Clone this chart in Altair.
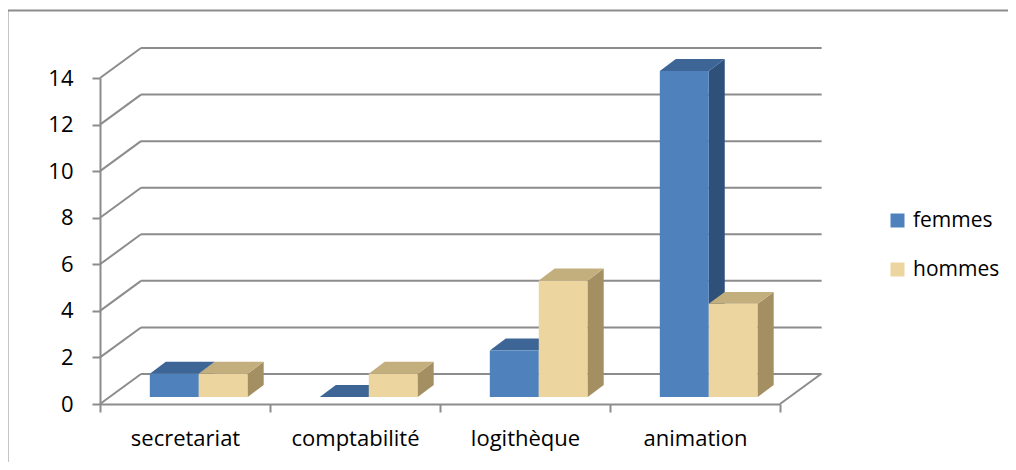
import json
import altair as alt
import pandas as pd

# ---- data ----
categories = ["secretariat", "comptabilité", "logithèque", "animation"]
series = ["femmes", "hommes"]
femmes = [1, 0, 2, 14]
hommes = [1, 1, 5, 4]
y_ticks = [0, 2, 4, 6, 8, 10, 12, 14]

# ---- styling / 3D projection constants (in scale units) ----
WALL_DX, WALL_DY = 0.2412, 1.288      # back-wall offset
GRID_END = 4.245                      # right end of back-wall lines
BAR_LEFT, BAR_W = 0.293, 0.288        # bar front face position inside a category
FRONT_DY = 0.30                       # bars sit slightly into the floor
DEPTH_DX, DEPTH_DY = 0.094, 0.515     # bar depth offset

GRID = "#8C8C8C"
FONT = "Open Sans"
FRONT = {"femmes": "#4F81BD", "hommes": "#EDD59F"}
TOP = {"femmes": "#3D6697", "hommes": "#C3AE7E"}
SIDE = {"femmes": "#2F5179", "hommes": "#A48F62"}

values = {"femmes": femmes, "hommes": hommes}

# ---- build geometry tables from the arrays ----
front_rows, side_rows, top_rows = [], [], []
for i, cat in enumerate(categories):
    for j, s in enumerate(series):
        v = values[s][i]
        x0 = i + BAR_LEFT + j * BAR_W
        x1 = x0 + BAR_W
        fid = f"{s}-{i}"
        front_rows.append(dict(series=s, cat=cat, x=x0, x2=x1, y=FRONT_DY, y2=v + FRONT_DY))
        for t in (0, 1):
            side_rows.append(dict(series=s, fid=fid, fill=SIDE[s],
                                  x=x1 + t * DEPTH_DX,
                                  y=FRONT_DY + t * DEPTH_DY,
                                  y2=v + FRONT_DY + t * DEPTH_DY))
            top_rows.append(dict(series=s, fid=fid, fill=TOP[s],
                                 y=v + FRONT_DY + t * DEPTH_DY,
                                 x=x0 + t * DEPTH_DX,
                                 x2=x1 + t * DEPTH_DX))
front_df = pd.DataFrame(front_rows)
side_df = pd.DataFrame(side_rows)
top_df = pd.DataFrame(top_rows)

diag_df = pd.DataFrame([dict(x=0, y=v, x2=WALL_DX, y2=v + WALL_DY) for v in y_ticks]
                       + [dict(x=len(categories), y=0, x2=len(categories) + WALL_DX, y2=WALL_DY)])
back_df = pd.DataFrame([dict(x=WALL_DX, x2=GRID_END, y=v + WALL_DY) for v in y_ticks])

# ---- scales and axes ----
xscale = alt.Scale(domain=[0, len(categories)], nice=False, zero=False)
yscale = alt.Scale(domain=[0, max(y_ticks)], nice=False, zero=False)

label_expr = f"{json.dumps(categories)}[datum.value] || ''"
xaxis = alt.Axis(values=list(range(len(categories) + 1)), labelExpr=label_expr,
                 labelOffset=85, labelFlush=False, labelOverlap=False, grid=False,
                 title=None, tickSize=8, tickWidth=2, tickColor=GRID,
                 domainColor=GRID, domainWidth=2, labelFont=FONT, labelFontSize=22,
                 labelColor="#000000", labelPadding=16)
yaxis = alt.Axis(values=y_ticks, grid=False, title=None, tickSize=8, tickWidth=2,
                 tickColor=GRID, domainColor=GRID, domainWidth=2, labelFont=FONT,
                 labelFontSize=22, labelColor="#000000", labelPadding=19,
                 labelFlush=False, labelOverlap=False)


def X(f):
    return alt.X(f"{f}:Q", scale=xscale, axis=xaxis)


def Y(f):
    return alt.Y(f"{f}:Q", scale=yscale, axis=yaxis)


diag = alt.Chart(diag_df).mark_rule(color=GRID, strokeWidth=2).encode(
    x=X("x"), y=Y("y"), x2="x2:Q", y2="y2:Q")
back = alt.Chart(back_df).mark_rule(color=GRID, strokeWidth=2).encode(
    x=X("x"), x2="x2:Q", y=Y("y"))


def side_layer(s):
    return alt.Chart(side_df).transform_filter(alt.datum.series == s).mark_area(
        orient="vertical").encode(x=X("x"), y=Y("y"), y2="y2:Q",
                                  detail="fid:N", fill=alt.Fill("fill:N", scale=None))


def top_layer(s):
    return alt.Chart(top_df).transform_filter(alt.datum.series == s).mark_area(
        orient="horizontal").encode(y=Y("y"), x=X("x"), x2="x2:Q",
                                    detail="fid:N", fill=alt.Fill("fill:N", scale=None))


color = alt.Color("series:N",
                  scale=alt.Scale(domain=series, range=[FRONT[s] for s in series]),
                  legend=alt.Legend(title=None, orient="none", legendX=787, legendY=132,
                                    symbolType="square", symbolSize=196,
                                    symbolStrokeWidth=0, labelFont=FONT,
                                    labelFontSize=21, labelColor="#000000",
                                    rowPadding=27, labelOffset=5, padding=0))


def front_layer(s):
    return alt.Chart(front_df).transform_filter(alt.datum.series == s).mark_rect().encode(
        x=X("x"), x2="x2:Q", y=Y("y"), y2="y2:Q", color=color)


frame_left = alt.Chart(pd.DataFrame({"k": [0]})).mark_rule(color=GRID, strokeWidth=2).encode(
    x=alt.value(-92.5), y=alt.value(-67.5), y2=alt.value(420))
frame_top = alt.Chart(pd.DataFrame({"k": [0]})).mark_rule(color=GRID, strokeWidth=2).encode(
    x=alt.value(-92.5), x2=alt.value(1000), y=alt.value(-67.5))

chart = alt.layer(
    diag, back,
    side_layer("femmes"), top_layer("femmes"), front_layer("femmes"),
    front_layer("hommes"), side_layer("hommes"), top_layer("hommes"),
    frame_left, frame_top,
).properties(
    width=680, height=326,
    background="white",
    autosize=alt.AutoSizeParams(type="none"),
    padding={"left": 92, "top": 70, "right": 228, "bottom": 58},
).configure_view(stroke=None, strokeWidth=0)

chart.save("out.html", embed_options={"renderer": "svg", "actions": False})
